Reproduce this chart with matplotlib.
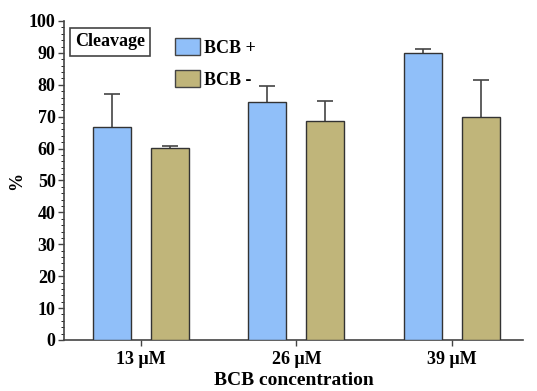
import matplotlib.pyplot as plt
import numpy as np
from matplotlib.ticker import MultipleLocator
from matplotlib.patches import Patch

plt.rcParams['font.family'] = ['Liberation Serif', 'DejaVu Serif']
plt.rcParams['font.weight'] = 'bold'

# data
groups = ['13 \u03bcM', '26 \u03bcM', '39 \u03bcM']
bcb_plus = [66.7, 74.7, 90.1]
bcb_plus_err = [10.3, 5.0, 1.1]
bcb_minus = [60.3, 68.8, 70.0]
bcb_minus_err = [0.6, 6.0, 11.6]

blue = '#90bff9'
tan = '#c0b57a'
edge = '#444444'

fig = plt.figure(figsize=(5.37, 3.91), dpi=100)
ax = fig.add_axes([64/537, 1 - 340/391, (523-64)/537, (340-21)/391])

x = np.arange(len(groups))
w = 0.245
off = 0.187


def draw_bars(pos, vals, errs, color):
    ax.bar(pos, vals, w, color=color, edgecolor='#333333', linewidth=1, zorder=3)
    vals = np.array(vals)
    errs = np.array(errs)
    # one-sided error bars: stem + top cap only
    ax.vlines(pos, vals, vals + errs, color=edge, linewidth=1.2, zorder=2)
    ax.plot(pos, vals + errs, linestyle='none', marker='_', markersize=11,
            markeredgewidth=1.2, color=edge, zorder=2)


draw_bars(x - off, bcb_plus, bcb_plus_err, blue)
draw_bars(x + off, bcb_minus, bcb_minus_err, tan)

ax.set_xlim(-0.497, 2.46)
ax.set_ylim(0, 100)
ax.yaxis.set_major_locator(MultipleLocator(10))
ax.yaxis.set_minor_locator(MultipleLocator(2))
ax.set_xticks(x)
ax.set_xticklabels(groups)
ax.tick_params(axis='both', labelsize=13, width=1, color=edge, direction='out', pad=2)
ax.tick_params(axis='y', which='major', length=4)
ax.tick_params(axis='y', which='minor', length=2)
ax.tick_params(axis='x', length=4, pad=4)
for lab in ax.get_xticklabels() + ax.get_yticklabels():
    lab.set_fontweight('bold')

for s in ['top', 'right']:
    ax.spines[s].set_visible(False)
for s in ['left', 'bottom']:
    ax.spines[s].set_color(edge)
    ax.spines[s].set_linewidth(1.2)

ax.set_ylabel('%', fontsize=13, fontweight='bold')
ax.yaxis.set_label_coords(-0.085, 0.5)
ax.set_xlabel('BCB concentration', fontsize=14, fontweight='bold')
ax.xaxis.set_label_coords(0.5, -0.1)

ax.text(0.024, 0.935, 'Cleavage', transform=ax.transAxes, fontsize=13, fontweight='bold',
        va='center', ha='left',
        bbox=dict(boxstyle='square,pad=0.3', facecolor='white', edgecolor=edge, linewidth=1.2))

handles = [Patch(facecolor=blue, edgecolor=edge, label='BCB +'),
           Patch(facecolor=tan, edgecolor=edge, label='BCB -')]
leg = ax.legend(handles=handles, loc='upper left', bbox_to_anchor=(0.227, 0.97), frameon=False,
                fontsize=13, handlelength=1.35, handleheight=1.1,
                handletextpad=0.25, labelspacing=0.75, borderaxespad=0)
for t in leg.get_texts():
    t.set_fontweight('bold')

fig.savefig('out.png', dpi=100)
